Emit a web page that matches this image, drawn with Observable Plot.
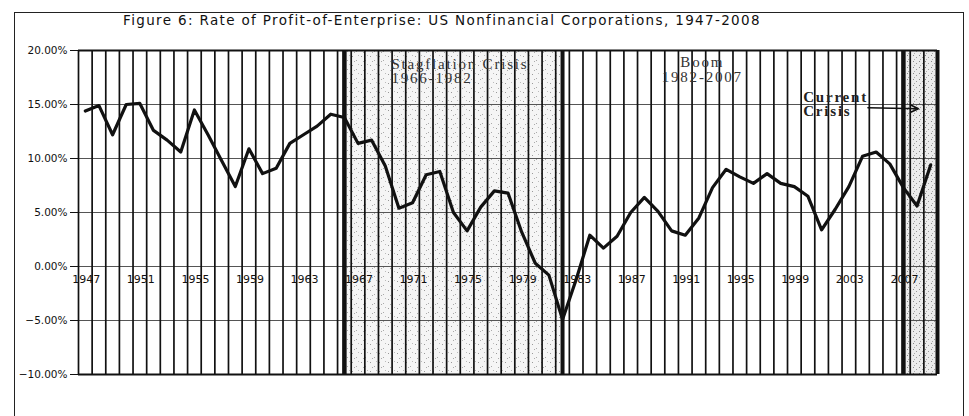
<!DOCTYPE html>
<html><head><meta charset="utf-8">
<script src="https://cdn.jsdelivr.net/npm/d3@7"></script>
<script src="https://cdn.jsdelivr.net/npm/@observablehq/plot@0.6"></script>
<style>
body{margin:0;background:#fff;}
#wrap{position:relative;width:969px;height:416px;overflow:hidden;background:#fff;}
#frame{position:absolute;left:14px;top:12px;width:948px;height:420px;border:1.5px solid #222;border-bottom:none;}
#title{position:absolute;top:12px;left:0;width:884px;text-align:center;font:13.5px "DejaVu Sans",sans-serif;letter-spacing:1.35px;color:#111;white-space:nowrap;}
#chart{position:absolute;top:36px;left:0;}
</style></head>
<body>
<svg width="0" height="0" style="position:absolute">
  <defs>
    <pattern id="stipple" width="9" height="9" patternUnits="userSpaceOnUse">
      <rect width="9" height="9" fill="#f5f5f5"/>
      <rect x="1" y="2" width="1" height="1" fill="#999"/>
      <rect x="5" y="6" width="1" height="1" fill="#aaa"/>
      <rect x="7" y="1" width="1" height="1" fill="#bbb"/>
      <rect x="3" y="7" width="1" height="1" fill="#aaa"/>
    </pattern>
    <pattern id="stipple2" width="6" height="6" patternUnits="userSpaceOnUse">
      <rect width="6" height="6" fill="#ececec"/>
      <rect x="1" y="1" width="1" height="1" fill="#888"/>
      <rect x="4" y="3" width="1" height="1" fill="#999"/>
      <rect x="2" y="5" width="1" height="1" fill="#aaa"/>
    </pattern>
  </defs>
</svg>
<div id="wrap">
  <div id="frame"></div>
  <div id="title">Figure 6: Rate of Profit-of-Enterprise: US Nonfinancial Corporations, 1947-2008</div>
  <div id="chart"></div>
</div>
<script>
const years = [1947,1948,1949,1950,1951,1952,1953,1954,1955,1956,1957,1958,1959,1960,1961,1962,1963,1964,1965,1966,1967,1968,1969,1970,1971,1972,1973,1974,1975,1976,1977,1978,1979,1980,1981,1982,1983,1984,1985,1986,1987,1988,1989,1990,1991,1992,1993,1994,1995,1996,1997,1998,1999,2000,2001,2002,2003,2004,2005,2006,2007,2008,2009];
const rates = [14.4,14.9,12.2,15.0,15.1,12.6,11.7,10.6,14.5,12.2,9.8,7.4,10.9,8.6,9.1,11.4,12.2,13.0,14.1,13.8,11.4,11.7,9.3,5.4,5.9,8.5,8.8,5.0,3.3,5.5,7.0,6.8,3.2,0.3,-0.8,-4.9,-1.2,2.9,1.7,2.8,5.0,6.4,5.1,3.3,2.9,4.5,7.3,9.0,8.3,7.7,8.6,7.7,7.4,6.5,3.4,5.3,7.4,10.2,10.6,9.5,7.3,5.6,9.4];
const periodStarts = [1966, 2007];
const periodEnds = [1982, null];   // null = still ongoing (runs to the chart's edge)
const yTicks = [-10,-5,0,5,10,15,20];
const xLabelYears = [1947,1951,1955,1959,1963,1967,1971,1975,1979,1983,1987,1991,1995,1999,2003,2007];
const stagflationLabel = "Stagflation Crisis\n1966-1982";
const boomLabel = "Boom\n1982-2007";
const currentLabel = "Current\nCrisis";

const data = years.map((y, i) => ({year: y, rate: rates[i]}));
// category axis: each year is a column; gridlines sit on column boundaries
const xDomain = [years[0] - 0.5, years[years.length - 1] + 0.5];
const periods = periodStarts.map((s, i) => ({start: s, end: periodEnds[i] ?? xDomain[1]}));

const chart = Plot.plot({
  width: 969, height: 380,
  marginLeft: 78, marginRight: 32, marginTop: 14, marginBottom: 42,
  x: {domain: xDomain, axis: null},
  y: {domain: [-10, 20], ticks: yTicks, tickFormat: d => d3.format(".2%")(d / 100), tickSize: 8, label: null},
  style: {fontFamily: "DejaVu Sans", fontSize: "10.5px", color: "#111", background: "transparent"},
  marks: [
    Plot.rect(periods, {x1: "start", x2: "end", y1: -10, y2: 20, fill: (d, i) => i === 0 ? "url(#stipple)" : "url(#stipple2)"}),
    Plot.ruleY(yTicks, {stroke: "#555", strokeWidth: 1}),
    Plot.ruleX(years, {x: d => d - 0.5, y1: -10, y2: 20, stroke: "#111", strokeWidth: 1.7}),
    Plot.ruleY([-10, 20], {stroke: "#111", strokeWidth: 1.8}),
    Plot.ruleX(periods, {x: "start", y1: -10, y2: 20, stroke: "#111", strokeWidth: 4.5}),
    Plot.ruleX(periods, {x: "end", y1: -10, y2: 20, stroke: "#111", strokeWidth: 4}),
    Plot.text(xLabelYears, {x: d => d, y: 0, text: d => String(d), dy: 13, dx: 1, fontSize: 11, fill: "#111"}),
    Plot.line(data, {x: "year", y: "rate", stroke: "#111", strokeWidth: 3.2}),
    Plot.text([stagflationLabel], {x: 1969.45, y: 18.05, text: d => d, textAnchor: "start", fontFamily: "Liberation Serif", fontSize: 15, lineHeight: 0.95, fill: "#333"}),
    Plot.text([boomLabel], {x: 1992.25, y: 18.2, text: d => d, textAnchor: "middle", fontFamily: "Liberation Serif", fontSize: 15, lineHeight: 0.95, fill: "#333"}),
    Plot.text([currentLabel], {x: 1999.65, y: 15.0, text: d => d, textAnchor: "start", fontFamily: "Liberation Serif", fontWeight: "bold", fontSize: 15, lineHeight: 0.95, fill: "#222"}),
    Plot.arrow([currentLabel], {x1: 2004.4, y1: 14.7, x2: 2008.1, y2: 14.6, stroke: "#111", strokeWidth: 1.6, headLength: 8, headAngle: 50})
  ]
});
chart.querySelectorAll('[font-family="Liberation Serif"]').forEach(g => g.setAttribute("letter-spacing", "1.8"));
document.getElementById("chart").appendChild(chart);
</script>
</body></html>
